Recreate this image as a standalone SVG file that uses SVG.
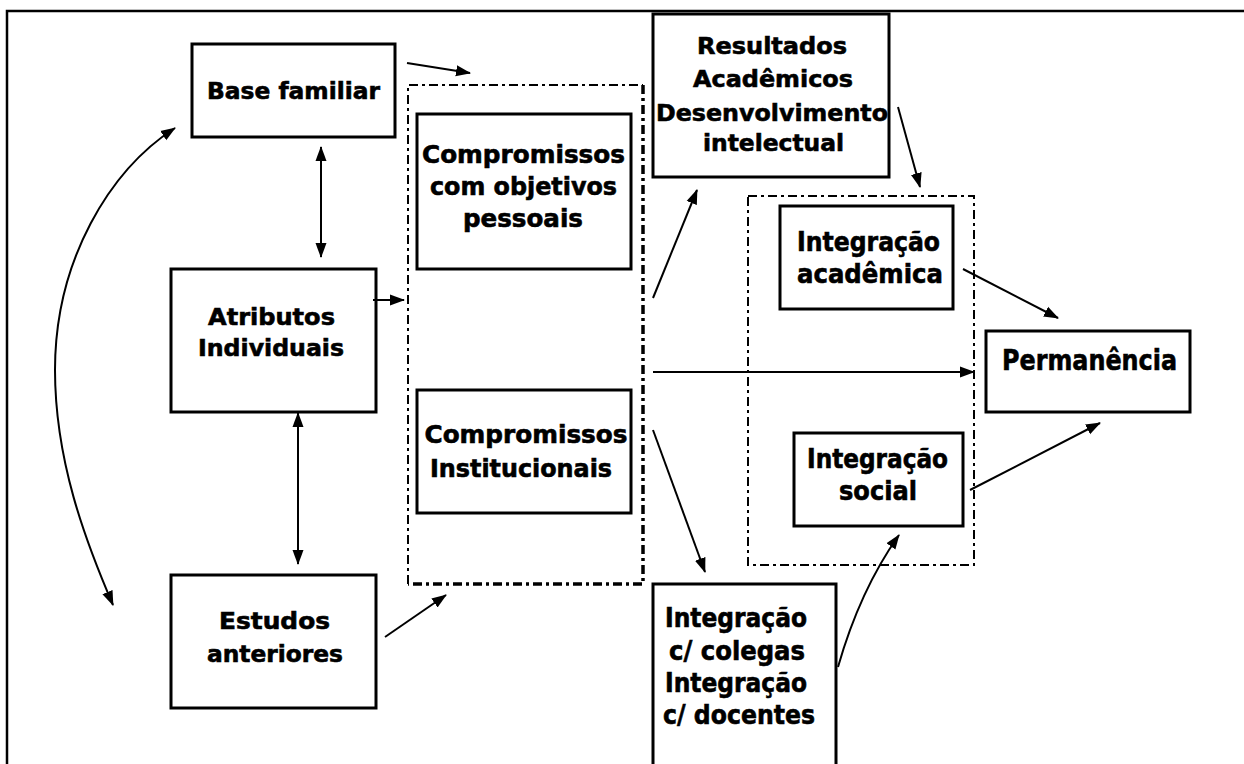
<svg xmlns="http://www.w3.org/2000/svg" width="1244" height="764" viewBox="0 0 1244 764">
<style>
.box{fill:#fff;stroke:#000;stroke-width:3}
.frame{fill:none;stroke:#000;stroke-width:2.5}
.grp{fill:none;stroke:#000;stroke-width:2;stroke-dasharray:9,4,3,4}
.grpthick{fill:none;stroke:#000;stroke-width:3.5;stroke-dasharray:9,4,3,4}
.c{fill:none;stroke:#000;stroke-width:2;marker-end:url(#ah)}
.cc{fill:none;stroke:#000;stroke-width:2;marker-end:url(#ah);marker-start:url(#ah)}
text{font-family:"DejaVu Sans","Liberation Sans",sans-serif;font-weight:bold;fill:#000;stroke:#000;stroke-width:0.6;text-anchor:middle}
.s22{font-size:23px}
.s23{font-size:24px}
.s25{font-size:26px}
.s27{font-size:28px}
</style>
<defs>
<marker id="ah" markerUnits="userSpaceOnUse" markerWidth="15" markerHeight="12" refX="14" refY="5.5" orient="auto-start-reverse" viewBox="0 0 15 11">
<path d="M0,0 L15,5.5 L0,11 z" fill="#000"/>
</marker>
</defs>
<rect width="1244" height="764" fill="#fff"/>
<g id="frame">
<path class="frame" d="M7,764 L7,11 L1244,11"/>
</g>
<g id="group-compromissos">
<path class="grp" d="M408,584 L408,85 L643,85"/>
<path class="grpthick" d="M643,85 L643,584 L408,584"/>
</g>
<g id="group-integracao">
<rect class="grp" x="748" y="196" width="226" height="369"/>
</g>
<g id="base-familiar">
<rect class="box" x="192" y="44" width="203" height="93"/>
<text class="s22" x="293.5" y="99" textLength="173" lengthAdjust="spacingAndGlyphs">Base familiar</text>
</g>
<g id="atributos-individuais">
<rect class="box" x="171" y="269" width="205" height="143"/>
<text class="s22" x="271.5" y="325" textLength="127" lengthAdjust="spacingAndGlyphs">Atributos</text>
<text class="s22" x="271" y="356" textLength="146" lengthAdjust="spacingAndGlyphs">Individuais</text>
</g>
<g id="estudos-anteriores">
<rect class="box" x="171" y="575" width="205" height="133"/>
<text class="s22" x="274.5" y="629" textLength="111" lengthAdjust="spacingAndGlyphs">Estudos</text>
<text class="s22" x="275" y="662" textLength="136" lengthAdjust="spacingAndGlyphs">anteriores</text>
</g>
<g id="compromissos-objetivos">
<rect class="box" x="417" y="114" width="214" height="155"/>
<text class="s23" x="523.5" y="163" textLength="203" lengthAdjust="spacingAndGlyphs">Compromissos</text>
<text class="s23" x="523.5" y="195" textLength="187" lengthAdjust="spacingAndGlyphs">com objetivos</text>
<text class="s23" x="523" y="227" textLength="120" lengthAdjust="spacingAndGlyphs">pessoais</text>
</g>
<g id="compromissos-institucionais">
<rect class="box" x="417" y="390" width="214" height="123"/>
<text class="s23" x="526" y="443" textLength="203" lengthAdjust="spacingAndGlyphs">Compromissos</text>
<text class="s23" x="521" y="477" textLength="182" lengthAdjust="spacingAndGlyphs">Institucionais</text>
</g>
<g id="resultados-academicos">
<rect class="box" x="653" y="14" width="236" height="163"/>
<text class="s22" x="772" y="54" textLength="150" lengthAdjust="spacingAndGlyphs">Resultados</text>
<text class="s22" x="773" y="87" textLength="160" lengthAdjust="spacingAndGlyphs">Acadêmicos</text>
<text class="s22" x="772" y="121" textLength="232" lengthAdjust="spacingAndGlyphs">Desenvolvimento</text>
<text class="s22" x="773.5" y="151" textLength="141" lengthAdjust="spacingAndGlyphs">intelectual</text>
</g>
<g id="integracao-academica">
<rect class="box" x="780" y="206" width="173" height="103"/>
<text class="s25" x="868.5" y="251" textLength="143" lengthAdjust="spacingAndGlyphs">Integração</text>
<text class="s25" x="870" y="283" textLength="146" lengthAdjust="spacingAndGlyphs">acadêmica</text>
</g>
<g id="integracao-social">
<rect class="box" x="794" y="433" width="169" height="93"/>
<text class="s25" x="877.5" y="468" textLength="141" lengthAdjust="spacingAndGlyphs">Integração</text>
<text class="s25" x="878" y="500" textLength="78" lengthAdjust="spacingAndGlyphs">social</text>
</g>
<g id="permanencia">
<rect class="box" x="986" y="331" width="204" height="81"/>
<text class="s27" x="1089.5" y="370" textLength="175" lengthAdjust="spacingAndGlyphs">Permanência</text>
</g>
<g id="integracao-colegas-docentes">
<rect class="box" x="653" y="584" width="183" height="190"/>
<text class="s25" x="736" y="627" textLength="142" lengthAdjust="spacingAndGlyphs">Integração</text>
<text class="s25" x="737" y="660" textLength="136" lengthAdjust="spacingAndGlyphs">c/ colegas</text>
<text class="s25" x="736" y="692" textLength="142" lengthAdjust="spacingAndGlyphs">Integração</text>
<text class="s25" x="739" y="724" textLength="152" lengthAdjust="spacingAndGlyphs">c/ docentes</text>
</g>
<g id="connectors">
<path class="c" d="M407,63 L470,73"/>
<path class="cc" d="M321,147 L321,257"/>
<path class="c" d="M373,300 L404,300"/>
<path class="cc" d="M175,128 C110,170 55,260 55,370 C55,460 85,540 113,605"/>
<path class="cc" d="M298,413 L298,564"/>
<path class="c" d="M385,637 L446,595"/>
<path class="c" d="M653,298 L697,190"/>
<path class="c" d="M653,372 L974,372"/>
<path class="c" d="M653,430 L705,572"/>
<path class="c" d="M898,107 L920,187"/>
<path class="c" d="M963,269 L1058,318"/>
<path class="c" d="M970,490 L1100,423"/>
<path class="c" d="M838,667 Q860,590 899,535"/>
</g>
</svg>
